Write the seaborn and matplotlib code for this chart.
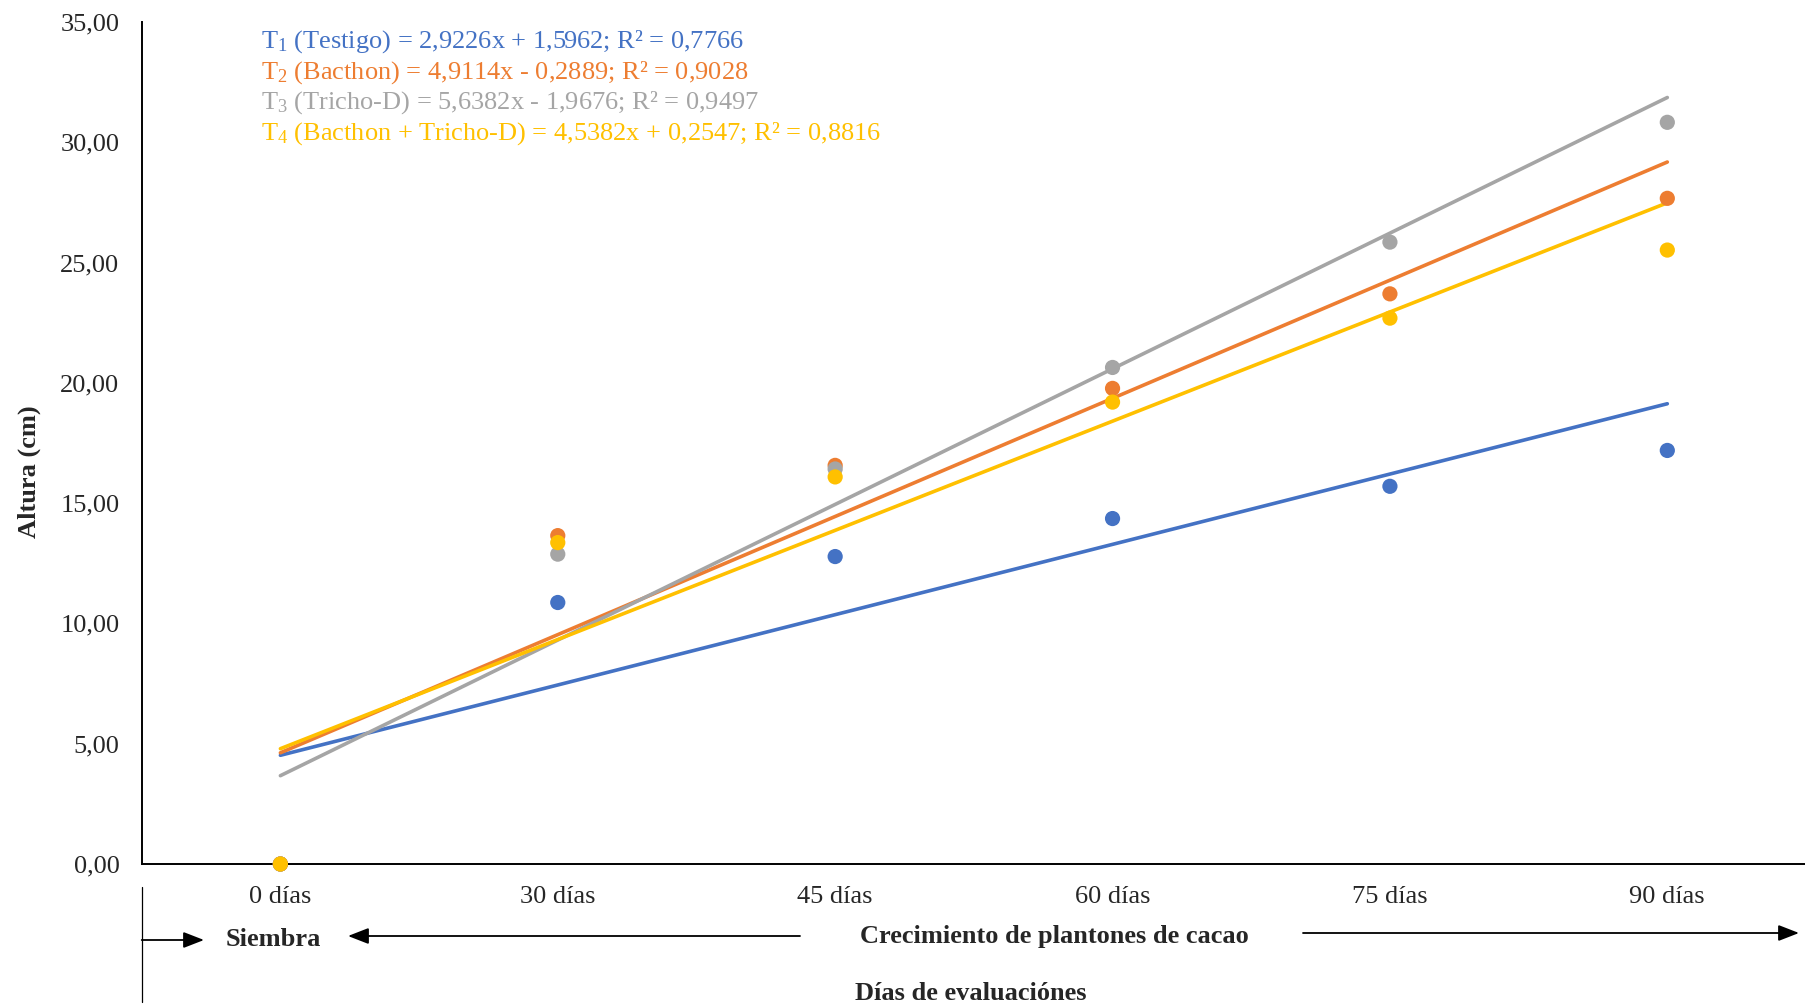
import matplotlib
matplotlib.use("Agg")
import matplotlib.pyplot as plt
from matplotlib.lines import Line2D
import numpy as np
import pandas as pd
import seaborn as sns

# ---- data ----
dias = ["0 días", "30 días", "45 días", "60 días", "75 días", "90 días"]
tratamientos = ["Testigo", "Bacthon", "Tricho-D", "Bacthon + Tricho-D"]
t1_altura = [0.00, 10.87, 12.78, 14.36, 15.70, 17.19]
t2_altura = [0.00, 13.65, 16.57, 19.77, 23.70, 27.67]
t3_altura = [0.00, 12.88, 16.42, 20.64, 25.85, 30.83]
t4_altura = [0.00, 13.36, 16.09, 19.20, 22.69, 25.52]
pendientes = [2.9226, 4.9114, 5.6382, 4.5382]
interceptos = [1.5962, -0.2889, -1.9676, 0.2547]
r2 = [0.7766, 0.9028, 0.9497, 0.8816]
colores = ["#4472C4", "#ED7D31", "#A5A5A5", "#FFC000"]
y_ticks = [0, 5, 10, 15, 20, 25, 30, 35]

alturas = [t1_altura, t2_altura, t3_altura, t4_altura]

sns.set_theme(style="white")
plt.rcParams["font.family"] = ["Liberation Serif", "DejaVu Serif"]
plt.rcParams["mathtext.fontset"] = "custom"
plt.rcParams["mathtext.rm"] = "Liberation Serif"
plt.rcParams["mathtext.it"] = "Liberation Serif:italic"
plt.rcParams["mathtext.bf"] = "Liberation Serif:bold"

W, H = 1806, 1008
fig = plt.figure(figsize=(W / 100, H / 100), dpi=100)
fig.patch.set_facecolor("white")
ax = fig.add_axes([141.7 / W, 1 - 864 / H, 1 - 141.7 / W, (864 - 22) / H])

# long-form tables: observed points and fitted trend lines
rows, fit_rows = [], []
for k, (trat, vals) in enumerate(zip(tratamientos, alturas)):
    for i, v in enumerate(vals):
        rows.append({"pos": i, "altura": v, "trat": trat})
        fit_rows.append({"pos": i, "ajuste": pendientes[k] * (i + 1) + interceptos[k], "trat": trat})
df = pd.DataFrame(rows)
df_fit = pd.DataFrame(fit_rows)
pal = dict(zip(tratamientos, colores))

sns.lineplot(data=df_fit, x="pos", y="ajuste", hue="trat", hue_order=tratamientos,
             palette=pal, linewidth=2.6, legend=False, ax=ax, zorder=2,
             solid_capstyle="round")
sns.scatterplot(data=df, x="pos", y="altura", hue="trat", hue_order=tratamientos,
                palette=pal, s=120, edgecolor="none", legend=False, ax=ax,
                zorder=3, clip_on=False)

ax.set_xlim(-0.5, 5.5)
ax.set_ylim(0, 35)
ax.set_yticks(y_ticks)
ax.set_yticklabels([f"{v:.2f}".replace(".", ",") for v in y_ticks], fontsize=19)
ax.set_xticks(np.arange(-0.5, 5.6, 1.0))
ax.set_xticklabels([])
ax.set_xticks(np.arange(6), minor=True)
ax.set_xticklabels(dias, minor=True, fontsize=19)
ax.tick_params(axis="x", which="major", direction="out", length=7, width=1.1, color="black")
ax.tick_params(axis="x", which="minor", length=0, pad=16)
ax.tick_params(axis="y", direction="out", length=6, width=1.1, color="black", pad=10)
for s in ["top", "right"]:
    ax.spines[s].set_visible(False)
for s in ["left", "bottom"]:
    ax.spines[s].set_color("black")
    ax.spines[s].set_linewidth(1.4)
ax.set_xlabel("")
ax.set_ylabel("")


def fx(x):
    return x / W


def fy(y):
    return 1 - y / H


# regression equations
for k, trat in enumerate(tratamientos):
    b = interceptos[k]
    signo = "+" if b >= 0 else "-"
    txt = (f"T$_{k + 1}$ ({trat}) = {pendientes[k]:.4f}x {signo} {abs(b):.4f}; "
           f"R² = {r2[k]:.4f}").replace(".", ",")
    fig.text(fx(261), fy(42 + 30.5 * k), txt, color=colores[k], fontsize=19,
             ha="left", va="center")

# axis titles
fig.text(fx(29), fy(472), "Altura (cm)", rotation=90, fontsize=19, fontweight="bold",
         ha="center", va="center")
fig.text(fx(971), fy(993), "Días de evaluaciónes", fontsize=19, fontweight="bold",
         ha="center", va="center")

# stage annotations under the axis
fig.add_artist(Line2D([fx(141.7), fx(141.7)], [fy(887), fy(1002)], color="black",
                      linewidth=0.9))
fig.text(fx(273), fy(939), "Siembra", fontsize=19, fontweight="bold",
         ha="center", va="center")
fig.text(fx(1054), fy(937), "Crecimiento de plantones de cacao", fontsize=19,
         fontweight="bold", ha="center", va="center")
arrow_kw = dict(arrowstyle="-|>,head_length=0.9,head_width=0.35", color="black",
                lw=1.3, shrinkA=0, shrinkB=0)
fig.patches.append(matplotlib.patches.FancyArrowPatch(
    (fx(141.7), fy(940)), (fx(204), fy(940)), transform=fig.transFigure,
    mutation_scale=14, **arrow_kw))
fig.patches.append(matplotlib.patches.FancyArrowPatch(
    (fx(800), fy(936)), (fx(348), fy(936)), transform=fig.transFigure,
    mutation_scale=14, **arrow_kw))
fig.patches.append(matplotlib.patches.FancyArrowPatch(
    (fx(1303), fy(933)), (fx(1799), fy(933)), transform=fig.transFigure,
    mutation_scale=14, **arrow_kw))

fig.savefig("out.png", dpi=100, facecolor="white")
